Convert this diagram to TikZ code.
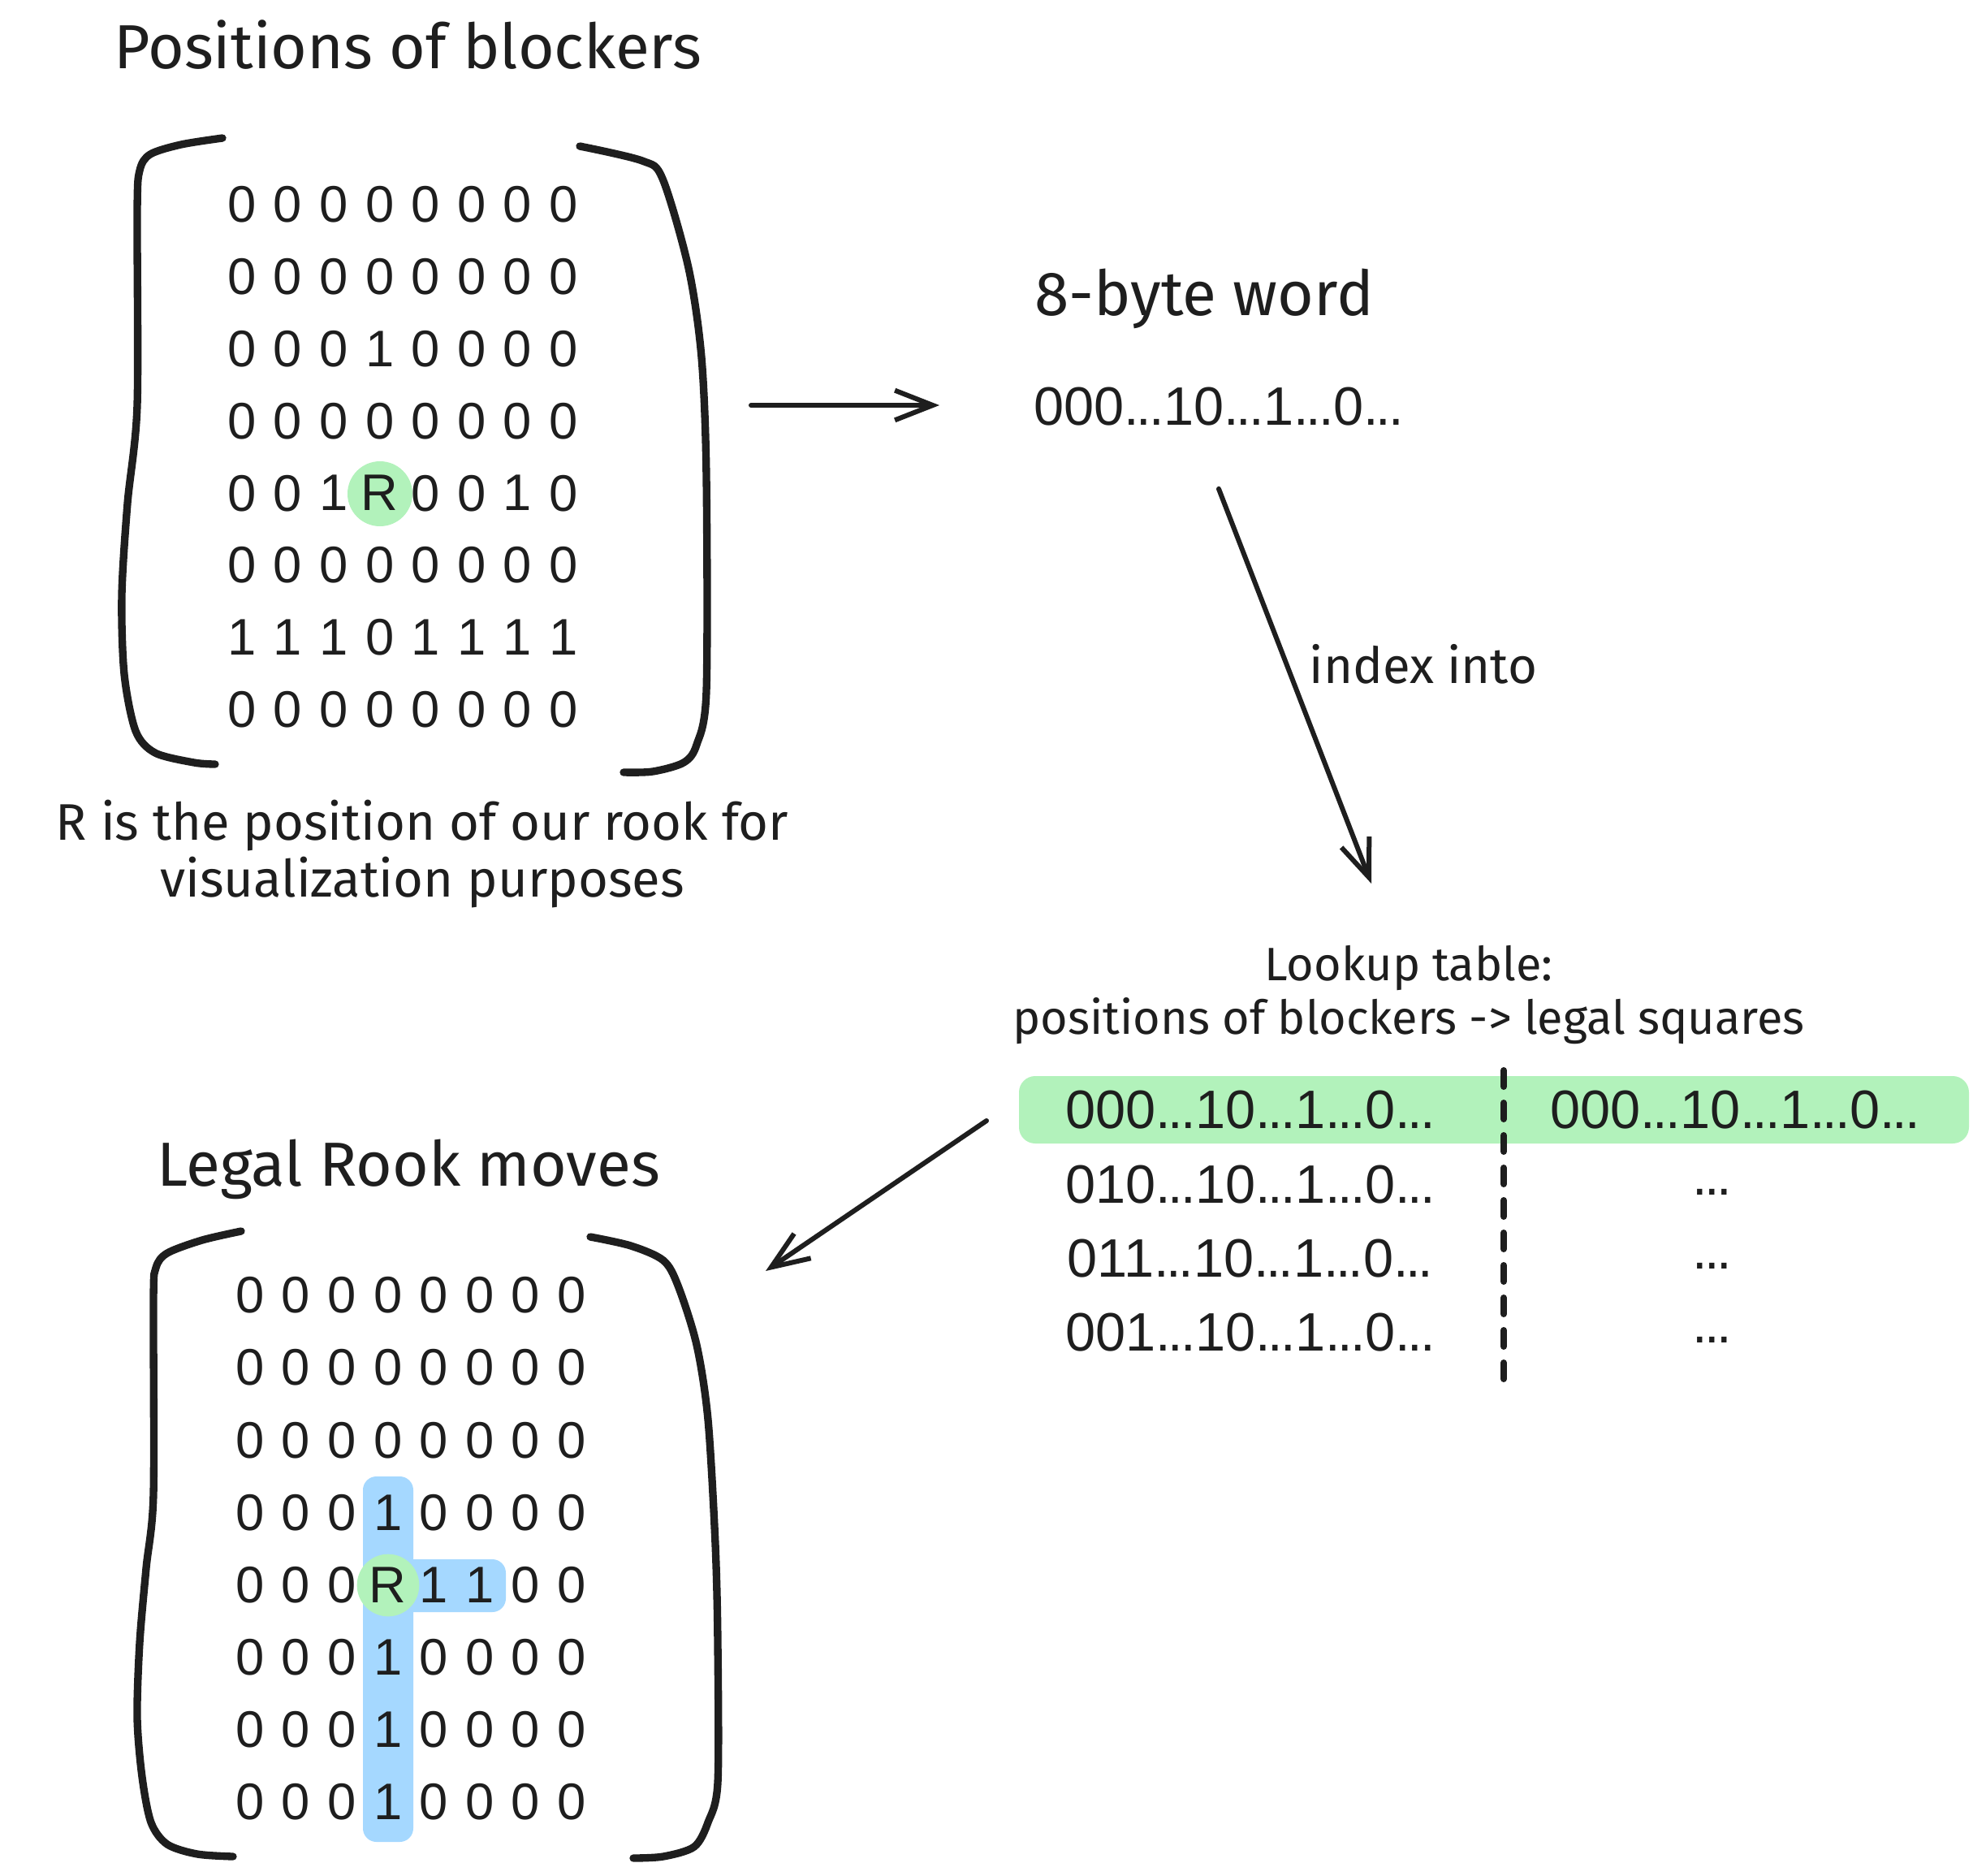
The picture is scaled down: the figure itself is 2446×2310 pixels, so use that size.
\documentclass[tikz,border=0pt]{standalone}
\usepackage{fontspec}
\setmainfont{Liberation Sans}
\newfontfamily\handfont{Fira Sans}
\usetikzlibrary{arrows.meta}
\usetikzlibrary{positioning}
\definecolor{ink}{HTML}{1E1E1E}
\definecolor{rookgreen}{HTML}{B2F2BB}
\definecolor{moveblue}{HTML}{A5D8FF}
\newcommand{\tdots}{.\kern-1pt.\kern-1pt.}

\begin{document}
\begin{tikzpicture}[x=0.3pt, y=-0.3pt,
    bit/.style={font=\fontsize{19}{19}\selectfont, text=ink, inner sep=0pt},
    word/.style={font=\fontsize{20}{20}\selectfont, text=ink, inner sep=0pt},
    hand/.style={font=\handfont\fontsize{23}{23}\selectfont, text=ink, inner sep=0pt, anchor=base},
    note/.style={hand, font=\handfont\fontsize{17.3}{17.3}\selectfont},
    brk/.style={draw=ink, line width=2.8pt, line cap=round, line join=round},
    conn/.style={draw=ink, line width=1.8pt, line cap=round, -{Straight Barb[length=14pt, width=11pt]}},
    sep/.style={draw=ink, line width=2.4pt, line cap=round, dash pattern=on 6pt off 6pt}]
        \useasboundingbox (0,0) rectangle (2446,2310);

        % blockers
        \node[hand] (ttlblk) at (502,84) {Positions of blockers};
        \draw[brk] plot[smooth, tension=0.5] coordinates {(274,170) (223,178) (185,190) (172,210) (169,260) (169,499) (157,620) (150,733) (153,830) (167,900) (191,927) (239,939) (265,941)};
        \draw[brk] plot[smooth, tension=0.5] coordinates {(714,180) (791,198) (816,220) (848,330) (864,440) (870,587) (870,851) (858,917) (842,939) (804,950) (768,951)};
        \fill[rookgreen] (468,608) circle (12pt);
        \foreach \row [count=\i] in {{0,0,0,0,0,0,0,0},{0,0,0,0,0,0,0,0},{0,0,0,1,0,0,0,0},{0,0,0,0,0,0,0,0},{0,0,1,R,0,0,1,0},{0,0,0,0,0,0,0,0},{1,1,1,0,1,1,1,1},{0,0,0,0,0,0,0,0}}
            \foreach \b [count=\j] in \row
                \node[bit] (blk\i\j) at ({298+56.6*(\j-1)}, {252+88.8*(\i-1)}) {\b};
        \node[note, font=\handfont\fontsize{19}{19}\selectfont] (cap1) at (520,1034) {R is the position of our rook for};
        \node[note, font=\handfont\fontsize{19}{19}\selectfont, below=21pt of cap1.base, anchor=base] (cap2) {visualization purposes};

        % word
        \node[hand] (ttlword) at (1483,388) {8-byte word};
        \node[word] (bits) at (1501,501) {000\tdots10\tdots1\tdots0\tdots};
        \coordinate (a1s) at (925,499);
        \coordinate (a1e) at (1157,499);
        \draw[conn] (a1s) -- (a1e);

        \coordinate[below=23pt of bits] (a2s);
        \coordinate (a2e) at (1689,1088);
        \draw[conn] (a2s) -- (a2e);
        \node[note, font=\handfont\fontsize{18.5}{18.5}\selectfont] (idx) at (1753,841) {index into};

        % lookup table
        \node[note] (lkhead) at (1735,1207) {Lookup table:};
        \node[note, below=20pt of lkhead.base, anchor=base] (lkmap) {positions of blockers -> legal squares};
        \fill[rookgreen, rounded corners=6pt] (1255,1325) rectangle (2425,1408);
        \foreach \code [count=\i] in {000,010,011,001}
            \node[word] (key\i) at (1540, {1367+91.3*(\i-1)}) {\code\tdots10\tdots1\tdots0\tdots};
        \node[word] (val1) at (2137,1367) {000\tdots10\tdots1\tdots0\tdots};
        \foreach \i in {2,3,4}
            \node[word, anchor=base] (val\i) at (2109, {1380+91.3*(\i-1)}) {\tdots};
        \draw[sep] (1852,1318) -- (1852,1698);

        \coordinate (a3s) at (1215,1380);
        \coordinate (a3e) at (943,1565);
        \draw[conn] (a3s) -- (a3e);

        % legal moves
        \node[hand] (ttlmoves) at (503,1460) {Legal Rook moves};
        \draw[brk] plot[smooth, tension=0.5] coordinates {(297,1516) (249,1527) (206,1543) (192,1561) (189,1600) (189,1840) (180,1931) (172,2023) (169,2115) (175,2188) (186,2244) (206,2271) (243,2283) (287,2286)};
        \draw[brk] plot[smooth, tension=0.5] coordinates {(727,1523) (777,1534) (817,1552) (835,1583) (858,1656) (872,1748) (881,1901) (884,2023) (884,2195) (872,2244) (855,2274) (817,2286) (780,2288)};
        \fill[moveblue, rounded corners=5pt] (447,1818) rectangle (509,2268);
        \fill[moveblue, rounded corners=5pt] (447,1920) rectangle (623,1985);
        \fill[rookgreen] (478,1952) circle (11.5pt);
        \foreach \row [count=\i] in {{0,0,0,0,0,0,0,0},{0,0,0,0,0,0,0,0},{0,0,0,0,0,0,0,0},{0,0,0,1,0,0,0,0},{0,0,0,R,1,1,0,0},{0,0,0,1,0,0,0,0},{0,0,0,1,0,0,0,0},{0,0,0,1,0,0,0,0}}
            \foreach \b [count=\j] in \row
                \node[bit] (mov\i\j) at ({308+56.6*(\j-1)}, {1595+89.1*(\i-1)}) {\b};
\end{tikzpicture}
\end{document}
